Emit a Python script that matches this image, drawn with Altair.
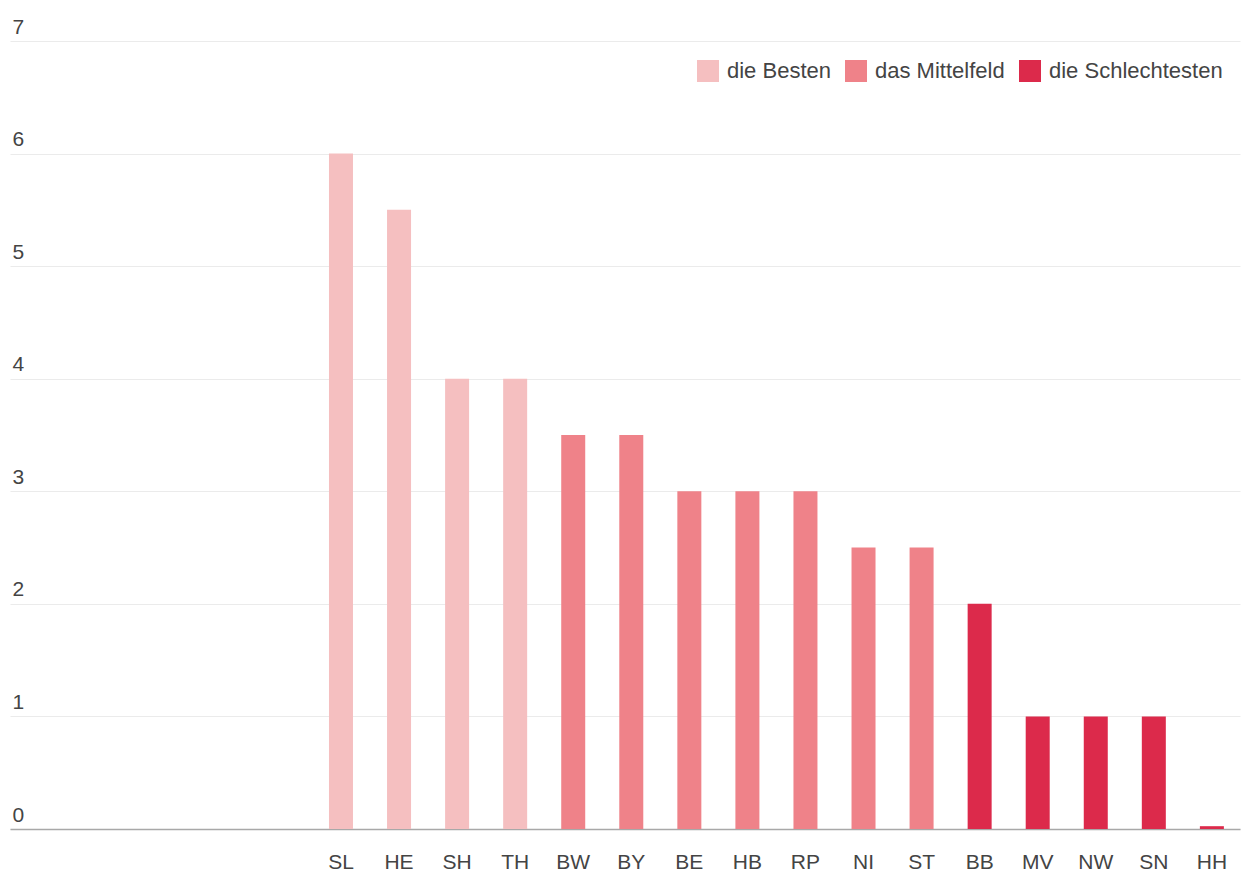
import altair as alt
import pandas as pd

states = ["SL", "HE", "SH", "TH", "BW", "BY", "BE", "HB", "RP", "NI", "ST", "BB", "MV", "NW", "SN", "HH"]
values = [6, 5.5, 4, 4, 3.5, 3.5, 3, 3, 3, 2.5, 2.5, 2, 1, 1, 1, 0.025]
groups = ["die Besten"] * 4 + ["das Mittelfeld"] * 7 + ["die Schlechtesten"] * 5
group_order = ["die Besten", "das Mittelfeld", "die Schlechtesten"]
group_colors = ["#f5bfc0", "#ef8289", "#dc2a4b"]
y_ticks = [0, 1, 2, 3, 4, 5, 6, 7]
# empty slots at the left of the category axis (no data, no label)
empty_slots = ["_1", "_2", "_3", "_4", "_5"]

df = pd.DataFrame({"state": states, "value": values, "group": groups})

FONT = "Liberation Sans, Arial, sans-serif"

chart = alt.Chart(df).mark_bar(size=24).encode(
    x=alt.X(
        "state:N",
        sort=None,
        title=None,
        scale=alt.Scale(domain=empty_slots + states, paddingInner=0.5,
                        paddingOuter=0.3425, align=0.658),
        axis=alt.Axis(
            labelAngle=0,
            ticks=False,
            tickSize=0,
            labelPadding=22,
            labelFontSize=21,
            labelColor="#444444",
            labelFont=FONT,
            labelExpr="indexof(datum.label, '_') == 0 ? '' : datum.label",
            domainColor="#a8a8a8",
            domainWidth=1.5,
            grid=False,
        ),
    ),
    y=alt.Y(
        "value:Q",
        title=None,
        scale=alt.Scale(domain=[0, 7], nice=False),
        axis=alt.Axis(
            values=y_ticks,
            format="d",
            ticks=False,
            tickSize=0,
            domain=False,
            labelAlign="left",
            labelBaseline="alphabetic",
            labelPadding=-2,
            labelOffset=-8,
            labelFontSize=21,
            labelColor="#444444",
            labelFont=FONT,
            gridColor="#ebebeb",
            gridWidth=1,
        ),
    ),
    color=alt.Color(
        "group:N",
        scale=alt.Scale(domain=group_order, range=group_colors),
        legend=alt.Legend(
            title=None,
            orient="none",
            direction="horizontal",
            legendX=687,
            legendY=19,
            symbolType="square",
            symbolSize=484,
            symbolStrokeWidth=0,
            symbolOpacity=1,
            labelFontSize=22,
            labelFont=FONT,
            labelColor="#444444",
            labelOffset=8,
            labelLimit=400,
            columnPadding=14,
        ),
    ),
).properties(
    width=1230,
    height=788,
    autosize=alt.AutoSizeParams(type="none"),
    padding={"left": 2, "top": 33, "right": 1, "bottom": 50},
).configure_view(stroke=None)

chart.save("out.html", embed_options={"renderer": "svg", "actions": False})
